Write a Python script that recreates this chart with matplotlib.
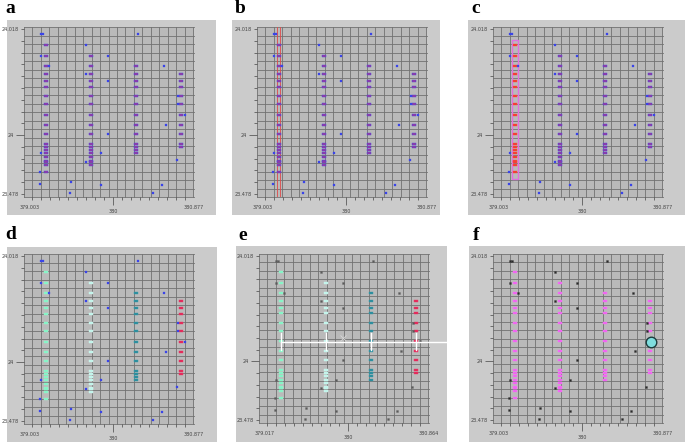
import numpy as np
import matplotlib.pyplot as plt
from matplotlib.patches import Rectangle

W, H = 685, 442

# cluster columns (grid units, 0..20 across the plot)
col_x = [2.55, 7.88, 13.22, 18.59]
colA_y = [17.92, 16.55, 15.37, 14.47, 13.61, 12.98, 11.88, 10.90, 9.65, 8.51,
          7.41, 6.27, 5.92, 5.53, 5.14, 4.71, 4.27, 4.16, 3.73, 2.90]
colB_y = [16.55, 15.37, 14.47, 13.61, 12.98, 11.88, 10.90, 9.65, 8.51, 7.41,
          6.27, 5.92, 5.53, 5.14, 4.71, 4.27, 4.16, 3.73]
colC_y = [15.37, 14.47, 13.61, 12.98, 11.88, 10.90, 9.65, 8.51, 7.41, 6.27,
          5.92, 5.53, 5.14]
colD_y = [14.47, 13.61, 12.98, 11.88, 10.90, 9.65, 8.51, 7.41, 6.27, 5.92]
cols_y = [colA_y, colB_y, colC_y, colD_y]

# scattered points not in a cluster
noise_x = [1.96, 2.20, 13.45, 7.29, 1.96, 9.96, 2.94, 16.51, 7.29, 9.96, 18.16,
           18.16, 19.06, 16.78, 9.96, 1.96, 9.06, 7.29, 18.08, 1.88, 1.88, 5.61,
           9.06, 16.31, 5.49, 15.29]
noise_y = [19.14, 19.14, 19.14, 17.92, 16.55, 16.55, 15.37, 15.37, 14.47, 13.61,
           11.88, 10.90, 9.65, 8.51, 7.41, 5.14, 5.14, 4.16, 4.31, 2.90, 1.53,
           1.73, 1.37, 1.37, 0.51, 0.51]

ytick_labels = ['24.018', '', '', '', '', '', '', '', '', '24', '', '', '', '', '23.478']
xlabels_default = ['379.003', '380', '380.877']
xlabels_e = ['379.017', '380', '380.864']

purple = '#a03a9c'
blue = '#3a44e8'
rect_marker = [(-1, -0.5), (1, -0.5), (1, 0.5), (-1, 0.5), (-1, -0.5)]

fig = plt.figure(figsize=(6.85, 4.42), dpi=100)


def add_box(x0, y0, x1, y1):
    fig.add_artist(Rectangle((x0 / W, 1 - y1 / H), (x1 - x0) / W, (y1 - y0) / H,
                             transform=fig.transFigure, facecolor='#cbcbcb',
                             edgecolor='none', zorder=-5))


def make_axes(x0, y0, x1, y1, letter, lx, ly, xlabels):
    ax = fig.add_axes([x0 / W, 1 - y1 / H, (x1 - x0) / W, (y1 - y0) / H])
    ax.set_facecolor('#bababa')
    ax.set_xlim(0, 20)
    ax.set_ylim(0, 20)
    for s in ax.spines.values():
        s.set_visible(False)
    for i in range(21):
        ax.axvline(i, color='#727272', lw=0.6, zorder=1, clip_on=False)
        ax.axhline(i, color='#727272', lw=0.6, zorder=1, clip_on=False)
    ax.xaxis.remove_overlapping_locs = False
    ax.yaxis.remove_overlapping_locs = False
    # y ticks
    ypos = np.linspace(19.76, 0.35, 15)
    ax.set_yticks(ypos, labels=[l if l != '24' else '' for l in ytick_labels])
    ax.set_yticks([ypos[9]], labels=['24'], minor=True)
    ax.tick_params(axis='y', which='major', length=2.2, width=0.5, pad=1.4,
                   labelsize=3.5, colors='#444444')
    ax.tick_params(axis='y', which='minor', length=5.8, width=0.5, pad=1.8,
                   labelsize=3.5, colors='#444444')
    ax.yaxis.get_major_ticks()[9].tick1line.set_visible(False)
    # x ticks
    xpos = list(np.linspace(1, 19, 18))
    long_x = xpos.pop(9)
    ax.set_xticks([0.7] + xpos + [20.1],
                  labels=[xlabels[0]] + [''] * len(xpos) + [xlabels[2]])
    ax.set_xticks([long_x], labels=[xlabels[1]], minor=True)
    ax.tick_params(axis='x', which='major', length=2.2, width=0.5, pad=3.6,
                   labelsize=3.5, colors='#444444')
    ax.tick_params(axis='x', which='minor', length=5.8, width=0.5, pad=2.6,
                   labelsize=3.5, colors='#444444')
    ticks = ax.xaxis.get_major_ticks()
    ticks[0].tick1line.set_visible(False)
    ticks[-1].tick1line.set_visible(False)
    fig.text(lx / W, 1 - ly / H, letter, fontsize=14, fontweight='bold',
             family='Liberation Serif', va='top', ha='left')
    return ax


def draw_clusters(ax, faces, edges, ms=2.9):
    for x, ys, fc, ec in zip(col_x, cols_y, faces, edges):
        ax.plot([x] * len(ys), ys, ls='none', marker=rect_marker, ms=ms,
                mfc=fc, mec=ec, mew=0.3, zorder=4)


def draw_noise(ax, color, ms=1.9):
    ax.plot(noise_x, noise_y, ls='none', marker='s', ms=ms, mfc=color,
            mec=color, mew=0.2, zorder=4)


# a
add_box(7, 20, 216, 215)
ax = make_axes(24, 27, 194, 197, 'a', 5, 0, xlabels_default)
draw_clusters(ax, [purple] * 4, [blue] * 4)
draw_noise(ax, blue)

# b
add_box(232, 20, 440, 215)
ax = make_axes(257, 27, 427, 197, 'b', 235, 0, xlabels_default)
for dx in (-0.22, 0.22):
    ax.axvline(col_x[0] + dx, color='#e04848', lw=0.6, zorder=3)
draw_clusters(ax, [purple] * 4, [blue] * 4)
draw_noise(ax, blue)

# c
add_box(468, 20, 685, 215)
ax = make_axes(493, 27, 663, 197, 'c', 471, 0, xlabels_default)
ax.add_patch(Rectangle((2.24, 2.16), 0.66, 16.27, facecolor='none',
                       edgecolor='#e070e0', lw=1.0, zorder=3))
draw_clusters(ax, ['#f03a30', purple, purple, purple],
              ['#ff5040', blue, blue, blue])
draw_noise(ax, blue)

grp_face = ['#80f4c4', '#bff4ea', '#2a8c9c', '#e02858']
grp_edge = ['#9af8d0', '#d0f8f0', '#3a9aaa', '#ee3868']

# d
add_box(7, 247, 217, 442)
ax = make_axes(24, 254, 194, 424, 'd', 5, 226, xlabels_default)
draw_clusters(ax, grp_face, grp_edge)
draw_noise(ax, blue)

# e
add_box(236, 246, 447, 442)
ax = make_axes(259, 254, 429, 423, 'e', 238, 227, xlabels_e)
for x in col_x:
    ax.plot([x, x], [8.66, 10.63], color='white', lw=1.0, zorder=5)
ax.plot([col_x[0], 22.8], [9.57, 9.57], color='white', lw=1.0, zorder=5,
        clip_on=False)
ax.plot([9.92], [10.04], marker='x', ms=4, color='#d8d8d8', mew=0.6, zorder=5)
draw_clusters(ax, grp_face, grp_edge)
draw_noise(ax, '#5a5a5a', ms=1.4)

# f
add_box(469, 246, 685, 442)
ax = make_axes(493, 254, 663, 423, 'f', 473, 227, xlabels_default)
draw_clusters(ax, ['#f060f0'] * 4, ['#f878f8'] * 4)
draw_noise(ax, '#2a2a2a', ms=1.4)
ax.plot([18.63], [9.53], marker='o', ms=7.6, mfc='#7fdede', mec='#1c3c3c',
        mew=1.0, zorder=6)

fig.savefig('out.png', dpi=100)
